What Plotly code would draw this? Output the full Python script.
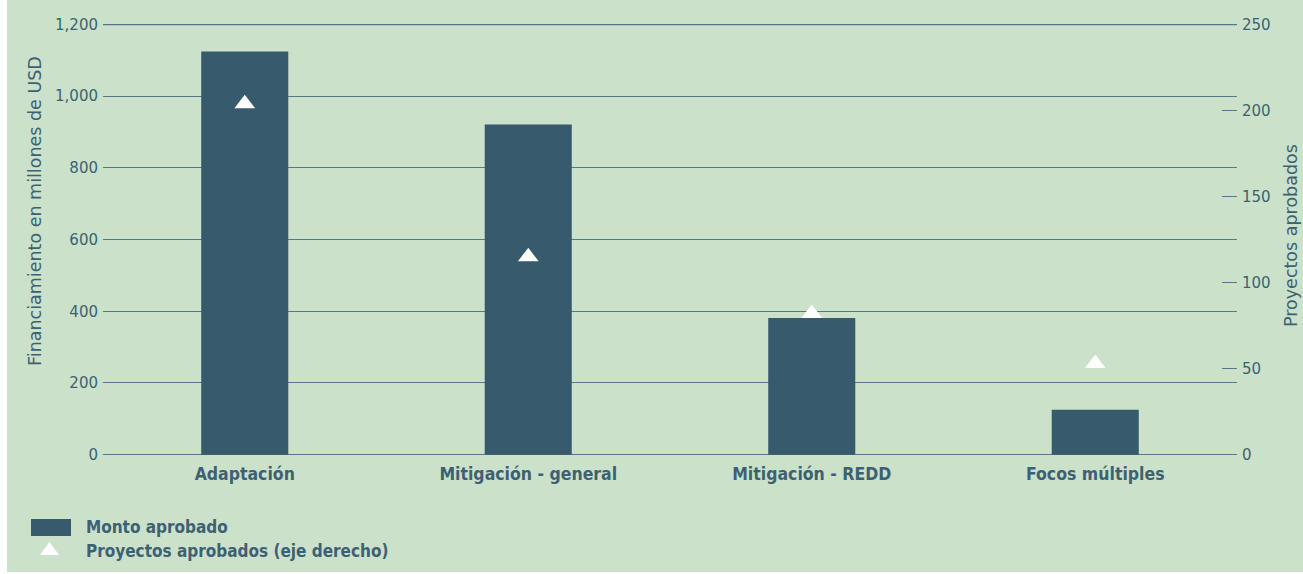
import plotly.graph_objects as go

categories = ["Adaptación", "Mitigación - general", "Mitigación - REDD", "Focos múltiples"]
monto_aprobado = [1125, 921, 381, 125]          # millones de USD (eje izquierdo)
proyectos_aprobados = [204, 115, 82, 53]        # número de proyectos (eje derecho)
left_ticks = [0, 200, 400, 600, 800, 1000, 1200]
right_ticks = [0, 50, 100, 150, 200, 250]

BG = "#cbe1c9"
BAR = "#375a6d"
TXT = "#3d6174"
GRID = "#557886"
FONT_TICK = "DejaVu Sans"
FONT_LAB = "DejaVu Sans Condensed"

W, H = 1303, 574
L, R, T, B = 103, 1237, 24, 455
LO, HI = -1.0, 1201.5


def px(x):
    return (x - L) / (R - L)


def py(y):
    return (B - y) / (B - T)


fig = go.Figure()
fig.add_trace(go.Bar(
    x=categories, y=monto_aprobado, name="Monto aprobado",
    marker=dict(color=BAR, line=dict(width=0)), yaxis="y",
))
fig.add_trace(go.Scatter(
    x=categories, y=proyectos_aprobados, name="Proyectos aprobados (eje derecho)",
    mode="markers", yaxis="y2",
    marker=dict(symbol="triangle-up", size=18, color="white", line=dict(width=0)),
))

shapes = [
    dict(type="rect", xref="paper", yref="paper", x0=px(7), x1=px(1310), y0=py(572), y1=py(-5),
         fillcolor=BG, line=dict(width=0), layer="below"),
    dict(type="line", xref="paper", yref="y", x0=0, x1=1, y0=left_ticks[0], y1=left_ticks[0],
         line=dict(color=GRID, width=1.3), layer="below"),
    dict(type="line", xref="paper", yref="y", x0=0, x1=1, y0=left_ticks[-1], y1=left_ticks[-1],
         line=dict(color=GRID, width=1.3), layer="below"),
    dict(type="rect", xref="paper", yref="paper", x0=px(31), x1=px(71), y0=py(536), y1=py(519),
         fillcolor=BAR, line=dict(width=0)),
    dict(type="path", xref="paper", yref="paper",
         path=f"M {px(40)} {py(555)} L {px(59)} {py(555)} L {px(49.5)} {py(542)} Z",
         fillcolor="white", line=dict(width=0)),
]

annotations = [
    dict(text="Financiamiento en millones de USD", xref="paper", yref="paper",
         x=px(35), y=py(211), textangle=-90, showarrow=False,
         xanchor="center", yanchor="middle", font=dict(family=FONT_TICK, size=17.5, color=TXT)),
    dict(text="Proyectos aprobados", xref="paper", yref="paper",
         x=px(1291), y=py(236), textangle=-90, showarrow=False,
         xanchor="center", yanchor="middle", font=dict(family=FONT_TICK, size=17.5, color=TXT)),
    dict(text="Monto aprobado", xref="paper", yref="paper",
         x=px(84), y=py(527), showarrow=False, xanchor="left", yanchor="middle",
         font=dict(family=FONT_LAB, size=17, color=TXT, weight="bold")),
    dict(text="Proyectos aprobados (eje derecho)", xref="paper", yref="paper",
         x=px(84), y=py(551), showarrow=False, xanchor="left", yanchor="middle",
         font=dict(family=FONT_LAB, size=17, color=TXT, weight="bold")),
]

fig.update_layout(
    width=W, height=H,
    margin=dict(l=L, r=W - R, t=T, b=H - B, pad=0),
    paper_bgcolor="white",
    plot_bgcolor="rgba(0,0,0,0)",
    showlegend=False,
    bargap=0.693,
    shapes=shapes,
    annotations=annotations,
    xaxis=dict(
        type="category", showgrid=False, zeroline=False, showline=False, ticks="",
        tickfont=dict(family=FONT_LAB, size=17.5, color=TXT, weight="bold"), ticklabelstandoff=6,
    ),
    yaxis=dict(
        range=[LO, HI], tickvals=left_ticks, tickformat=",",
        showgrid=True, gridcolor=GRID, gridwidth=1.3, zeroline=False, showline=False,
        ticks="", tickfont=dict(family=FONT_TICK, size=15, color=TXT), ticklabelstandoff=4,
    ),
    yaxis2=dict(
        range=[LO * 250 / 1200, HI * 250 / 1200], tickvals=right_ticks, overlaying="y", side="right",
        showgrid=False, zeroline=False, showline=False,
        ticks="inside", ticklen=15, tickcolor=GRID, tickwidth=1.3,
        tickfont=dict(family=FONT_TICK, size=15, color=TXT), ticklabelstandoff=4,
    ),
)

fig.write_html(
    "out.html",
    config={"displayModeBar": False},
    post_script="document.body.style.margin='0';document.body.style.padding='0';document.body.style.overflow='hidden';",
)
